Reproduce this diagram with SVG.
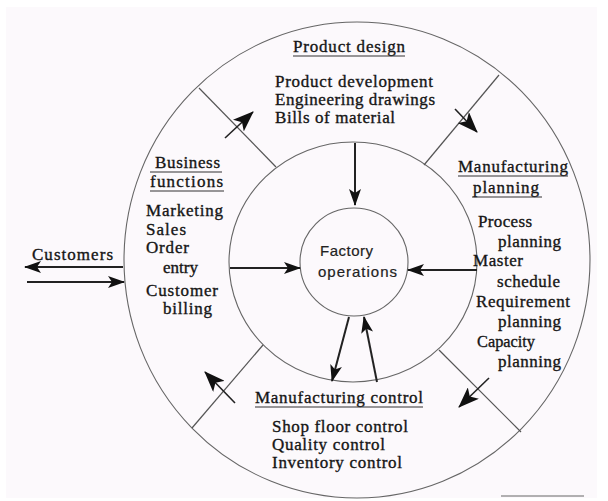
<svg xmlns="http://www.w3.org/2000/svg" width="608" height="501" viewBox="0 0 608 501">
  <style>
    .ring { fill: none; stroke: #666; stroke-width: 1.1; }
    .divider { stroke: #555; stroke-width: 1.2; }
    .flow { stroke: #222; stroke-width: 2; fill: none; }
    .flow-big { stroke: #222; stroke-width: 1.6; fill: none; }
    .serif { font-family: "Liberation Serif", "Times New Roman", serif; font-size: 17px; fill: #151515; stroke: #151515; stroke-width: 0.35; }
    .sans { font-family: "Liberation Sans", Arial, sans-serif; font-size: 15px; fill: #222; stroke: #222; stroke-width: 0.2; }
    .rule { stroke: #333; stroke-width: 1.1; }
  </style>
  <defs>
    <marker id="head" markerUnits="userSpaceOnUse" markerWidth="17" markerHeight="12" refX="16" refY="6" orient="auto">
      <path d="M0,0 L17,6 L0,12 L4,6 z" fill="#111"/>
    </marker>
    <marker id="head-big" markerUnits="userSpaceOnUse" markerWidth="21" markerHeight="16" refX="20" refY="8" orient="auto">
      <path d="M0,0 L21,8 L0,16 L5,8 z" fill="#111"/>
    </marker>
  </defs>

  <!-- page -->
  <rect x="0" y="0" width="608" height="501" fill="#ffffff"/>
  <rect x="6" y="7" width="591" height="491" fill="#fcf9fc"/>

  <!-- concentric rings and sector dividers -->
  <g id="rings">
    <ellipse class="ring" cx="357" cy="260" rx="233" ry="238"/>
    <ellipse class="ring" cx="353" cy="262" rx="124" ry="120"/>
    <line class="divider" x1="199" y1="88" x2="276" y2="167"/>
    <line class="divider" x1="499" y1="75" x2="424" y2="165"/>
    <line class="divider" x1="263" y1="345" x2="192" y2="428"/>
    <line class="divider" x1="439" y1="350" x2="521" y2="432"/>
  </g>

  <g id="factory-operations">
    <circle class="ring" cx="354" cy="262" r="54"/>
    <text class="sans" x="320" y="256" textLength="53" lengthAdjust="spacing">Factory</text>
    <text class="sans" x="318" y="277" textLength="79" lengthAdjust="spacing">operations</text>
  </g>

  <g id="product-design">
    <text class="serif" x="293" y="52" textLength="112" lengthAdjust="spacing">Product design</text>
    <line class="rule" x1="293" y1="56" x2="405" y2="56"/>
    <text class="serif" x="275" y="87" textLength="158" lengthAdjust="spacing">Product development</text>
    <text class="serif" x="275" y="105" textLength="160" lengthAdjust="spacing">Engineering drawings</text>
    <text class="serif" x="275" y="123" textLength="120" lengthAdjust="spacing">Bills of material</text>
  </g>

  <g id="business-functions">
    <text class="serif" x="155" y="168" textLength="65" lengthAdjust="spacing">Business</text>
    <line class="rule" x1="150" y1="172" x2="222" y2="172"/>
    <text class="serif" x="150" y="187" textLength="73" lengthAdjust="spacing">functions</text>
    <line class="rule" x1="150" y1="191" x2="224" y2="191"/>
    <text class="serif" x="146" y="216" textLength="77" lengthAdjust="spacing">Marketing</text>
    <text class="serif" x="146" y="235" textLength="40" lengthAdjust="spacing">Sales</text>
    <text class="serif" x="146" y="253" textLength="43" lengthAdjust="spacing">Order</text>
    <text class="serif" x="163" y="273" textLength="35" lengthAdjust="spacing">entry</text>
    <text class="serif" x="146" y="296" textLength="72" lengthAdjust="spacing">Customer</text>
    <text class="serif" x="163" y="314" textLength="49" lengthAdjust="spacing">billing</text>
  </g>

  <g id="manufacturing-planning">
    <text class="serif" x="458" y="172" textLength="110" lengthAdjust="spacing">Manufacturing</text>
    <line class="rule" x1="458" y1="176" x2="568" y2="176"/>
    <text class="serif" x="473" y="193" textLength="66" lengthAdjust="spacing">planning</text>
    <line class="rule" x1="472" y1="197" x2="542" y2="197"/>
    <text class="serif" x="478" y="227" textLength="54" lengthAdjust="spacing">Process</text>
    <text class="serif" x="498" y="247" textLength="63" lengthAdjust="spacing">planning</text>
    <text class="serif" x="473" y="266" textLength="50" lengthAdjust="spacing">Master</text>
    <text class="serif" x="497" y="287" textLength="63" lengthAdjust="spacing">schedule</text>
    <text class="serif" x="476" y="307" textLength="94" lengthAdjust="spacing">Requirement</text>
    <text class="serif" x="498" y="327" textLength="63" lengthAdjust="spacing">planning</text>
    <text class="serif" x="477" y="347" textLength="58" lengthAdjust="spacingAndGlyphs">Capacity</text>
    <text class="serif" x="498" y="367" textLength="63" lengthAdjust="spacing">planning</text>
  </g>

  <g id="manufacturing-control">
    <text class="serif" x="255" y="403" textLength="168" lengthAdjust="spacing">Manufacturing control</text>
    <line class="rule" x1="255" y1="407" x2="423" y2="407"/>
    <text class="serif" x="272" y="432" textLength="136" lengthAdjust="spacing">Shop floor control</text>
    <text class="serif" x="272" y="450" textLength="113" lengthAdjust="spacing">Quality control</text>
    <text class="serif" x="272" y="468" textLength="130" lengthAdjust="spacing">Inventory control</text>
  </g>

  <g id="customers">
    <text class="serif" x="32" y="260" textLength="81" lengthAdjust="spacing">Customers</text>
  </g>

  <!-- information flows -->
  <g id="connectors">
    <line class="flow" x1="355" y1="143" x2="355" y2="205" marker-end="url(#head)"/>
    <line class="flow" x1="230" y1="268" x2="300" y2="268" marker-end="url(#head)"/>
    <line class="flow" x1="477" y1="270" x2="408" y2="270" marker-end="url(#head)"/>
    <line class="flow" x1="349" y1="317" x2="332" y2="381" marker-end="url(#head)"/>
    <line class="flow" x1="377" y1="382" x2="364" y2="317" marker-end="url(#head)"/>
    <line class="flow-big" x1="225" y1="138" x2="253" y2="112" marker-end="url(#head-big)"/>
    <line class="flow-big" x1="455" y1="109" x2="477" y2="132" marker-end="url(#head-big)"/>
    <line class="flow-big" x1="235" y1="403" x2="205" y2="372" marker-end="url(#head-big)"/>
    <line class="flow-big" x1="489" y1="378" x2="459" y2="407" marker-end="url(#head-big)"/>
    <line class="flow" x1="123" y1="267" x2="25" y2="267" marker-end="url(#head)"/>
    <line class="flow" x1="27" y1="282" x2="124" y2="282" marker-end="url(#head)"/>
  </g>

  <line x1="501" y1="496" x2="584" y2="496" stroke="#666" stroke-width="1"/>
</svg>
